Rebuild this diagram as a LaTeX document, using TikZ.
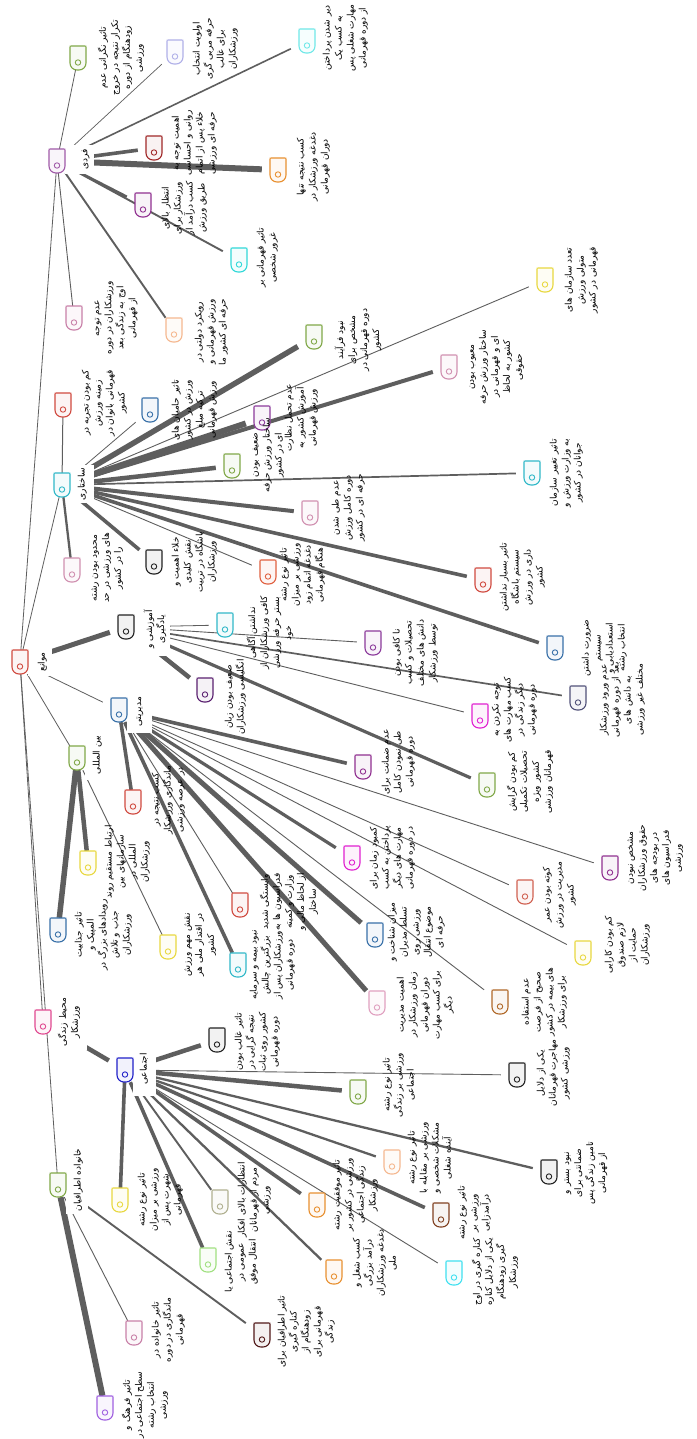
\documentclass[tikz,border=0pt]{standalone}
\usepackage{fontspec}
\newfontfamily\fa[Script=Arabic]{DejaVu Sans}
\TeXXeTstate=1
\newcommand\RL[1]{\beginR #1\endR}
\definecolor{lncol}{HTML}{5E5E5E}
\definecolor{cred}{HTML}{D04A40}
\definecolor{cpurp}{HTML}{A05AA8}
\definecolor{cteal}{HTML}{30B8C8}
\definecolor{cblack}{HTML}{222222}
\definecolor{cblue}{HTML}{3870A8}
\definecolor{cgreen}{HTML}{80A848}
\definecolor{cpink}{HTML}{E04890}
\definecolor{croyal}{HTML}{2020C8}
\definecolor{clav}{HTML}{B0B0E8}
\definecolor{clcyan}{HTML}{70E8E8}
\definecolor{cdred}{HTML}{A02828}
\definecolor{corange}{HTML}{E89030}
\definecolor{cmag}{HTML}{903090}
\definecolor{ccyan}{HTML}{30D8D8}
\definecolor{cmauve}{HTML}{C880A8}
\definecolor{cpeach}{HTML}{F5B890}
\definecolor{cplum}{HTML}{8B3A9B}
\definecolor{cpinkb}{HTML}{D090B0}
\definecolor{cyellow}{HTML}{E8D840}
\definecolor{corred}{HTML}{E06040}
\definecolor{cdpurp}{HTML}{5A2070}
\definecolor{cslate}{HTML}{505078}
\definecolor{cfuch}{HTML}{E020D0}
\definecolor{cpinkl}{HTML}{E0A0C0}
\definecolor{cbrown}{HTML}{B06828}
\definecolor{csalmon}{HTML}{D06050}
\definecolor{cdbrown}{HTML}{804020}
\definecolor{cbcyan}{HTML}{40E0F0}
\definecolor{clgreen}{HTML}{A0E080}
\definecolor{cgray}{HTML}{B0B090}
\definecolor{cviolet}{HTML}{A060E0}
\definecolor{cmaroon}{HTML}{501818}
\tikzset{
  bx/.style={rectangle, minimum width=32pt, minimum height=24pt, inner sep=0pt, draw=none},
  lab/.style={rotate=90, anchor=north, align=center, inner sep=0.5pt,
    font=\fa\fontsize{9pt}{12pt}\selectfont},
  con/.style={draw=lncol},
  mask/.style={fill=white, draw=none}
}
\newcommand\bx[3]{\node[bx] (#1) at (#2,#3) {};}
\newcommand\ed[3]{\draw[con, line width=#3pt] (#1) -- (#2);}
\newcommand\ic[2]{%
  \begin{scope}[shift={(#1.center)}]
    \draw[line width=1.1pt, draw=#2, fill=#2!6] (-6.5,-12) -- (6.5,-12)
      .. controls (8,-12) .. (8,-10.5) -- (8,5)
      .. controls (8,8.9) and (4.9,12) .. (1,12) -- (-1,12)
      .. controls (-4.9,12) and (-8,8.9) .. (-8,5) -- (-8,-10.5)
      .. controls (-8,-12) .. (-6.5,-12) -- cycle;
    \draw[line width=0.9pt, draw=#2] (0,4.5) circle (2.7);
  \end{scope}}
\newcommand\lab[4]{\node[lab] (t#1) at (#2,#3) {#4};}
\begin{document}
\begin{tikzpicture}[x=1pt,y=-1pt]
\fill[white] (0,0) rectangle (696,1439);
\useasboundingbox (0,0) rectangle (696,1439);
% ---------- node boxes
\bx{R}{20}{662}\bx{F}{57}{161}\bx{S}{62}{485}\bx{A}{126}{627}\bx{M}{119}{710}
\bx{B}{77}{758}\bx{E}{43}{1022}\bx{J}{125}{1070}\bx{K}{58}{1185}
\bx{F1}{78}{58}\bx{F2}{175}{52}\bx{F3}{307}{41}\bx{F4}{154}{148}\bx{F5}{278}{170}
\bx{F6}{143}{205}\bx{F7}{239}{260}\bx{F8}{74}{318}\bx{F9}{174}{330}
\bx{S1}{63}{405}\bx{S2}{150}{410}\bx{S3}{314}{337}\bx{S4}{262}{418}\bx{S5}{449}{367}
\bx{S6}{545}{280}\bx{S7}{232}{466}\bx{S8}{532}{473}\bx{S9}{310}{513}\bx{S10}{483}{580}
\bx{S11}{555}{648}\bx{S12}{154}{562}\bx{S13}{72}{570}\bx{S14}{268}{572}
\bx{A1}{225}{625}\bx{A2}{205}{690}\bx{A3}{373}{643}\bx{A4}{578}{698}\bx{A5}{480}{716}\bx{A6}{487}{785}
\bx{M1}{363}{767}\bx{M2}{352}{858}\bx{M3}{133}{802}\bx{M4}{240}{905}\bx{M5}{238}{965}
\bx{M6}{375}{935}\bx{M7}{377}{1003}\bx{M8}{500}{1002}\bx{M9}{583}{953}\bx{M10}{525}{892}\bx{M11}{610}{868}
\bx{B1}{88}{863}\bx{B2}{58}{930}\bx{B3}{168}{947}
\bx{J1}{217}{1040}\bx{J2}{358}{1092}\bx{J3}{517}{1075}\bx{J4}{549}{1172}\bx{J5}{392}{1162}
\bx{J6}{441}{1215}\bx{J7}{454}{1273}\bx{J8}{317}{1205}\bx{J9}{334}{1272}\bx{J10}{208}{1260}
\bx{J11}{220}{1202}\bx{J12}{120}{1200}
\bx{K1}{105}{1408}\bx{K2}{134}{1333}\bx{K3}{262}{1335}
% ---------- connectors
\ed{R}{F}{0.8}\ed{R}{S}{0.8}\ed{R}{A}{5}\ed{R}{M}{0.8}\ed{R}{B}{0.8}\ed{R}{E}{0.8}\ed{R}{K}{0.8}
\ed{E}{J}{4.5}
\ed{F}{F1}{0.8}\ed{F}{F2}{0.7}\ed{F}{F3}{1.6}\ed{F}{F4}{3.6}\ed{F}{F5}{6}\ed{F}{F6}{2.5}
\ed{F}{F7}{1.9}\ed{F}{F8}{0.9}\ed{F}{F9}{1.9}
\ed{S}{S1}{1}\ed{S}{S2}{0.8}\ed{S}{S3}{5.5}\ed{S}{S4}{6}\ed{S}{S5}{4}\ed{S}{S6}{0.9}
\ed{S}{S7}{4.5}\ed{S}{S8}{1.7}\ed{S}{S9}{4}\ed{S}{S10}{3.6}\ed{S}{S11}{3.6}\ed{S}{S12}{3.6}
\ed{S}{S13}{2.3}\ed{S}{S14}{0.9}
\ed{A}{A1}{0.8}\ed{A}{A2}{4.5}\ed{A}{A3}{0.9}\ed{A}{A4}{1.7}\ed{A}{A5}{0.9}\ed{A}{A6}{3.2}
\ed{M}{M1}{3.6}\ed{M}{M2}{3.2}\ed{M}{M3}{3.6}\ed{M}{M4}{0.9}\ed{M}{M5}{3.6}\ed{M}{M6}{5}
\ed{M}{M7}{5}\ed{M}{M8}{0.9}\ed{M}{M9}{0.9}\ed{M}{M10}{0.9}\ed{M}{M11}{0.9}
\ed{B}{B1}{4.5}\ed{B}{B2}{5.5}\ed{B}{B3}{0.9}
\ed{J}{J1}{4.5}\ed{J}{J2}{4.5}\ed{J}{J3}{0.9}\ed{J}{J4}{2.3}\ed{J}{J5}{2.3}\ed{J}{J6}{3.6}
\ed{J}{J7}{0.9}\ed{J}{J8}{3.6}\ed{J}{J9}{2.3}\ed{J}{J10}{3.6}\ed{J}{J11}{1.9}\ed{J}{J12}{3.6}
\ed{K}{K1}{6}\ed{K}{K2}{0.9}\ed{K}{K3}{1.9}
% ---------- masks behind parent labels
\fill[mask] (28,648) rectangle (52,676);
\fill[mask] (65,145) rectangle (94,174);
\fill[mask] (71,465) rectangle (94,503);
\fill[mask] (134,602) rectangle (170,656);
\fill[mask] (127,692) rectangle (152,733);
\fill[mask] (85,730) rectangle (107,780);
\fill[mask] (51,994) rectangle (87,1050);
\fill[mask] (133,1042) rectangle (156,1096);
\fill[mask] (66,1146) rectangle (88,1214);
% ---------- icons
\ic{R}{cred}\ic{F}{cpurp}\ic{S}{cteal}\ic{A}{cblack}\ic{M}{cblue}\ic{B}{cgreen}
\ic{E}{cpink}\ic{J}{croyal}\ic{K}{cgreen}
\ic{F1}{cgreen}\ic{F2}{clav}\ic{F3}{clcyan}\ic{F4}{cdred}\ic{F5}{corange}\ic{F6}{cmag}
\ic{F7}{ccyan}\ic{F8}{cmauve}\ic{F9}{cpeach}
\ic{S1}{cred}\ic{S2}{cblue}\ic{S3}{cgreen}\ic{S4}{cplum}\ic{S5}{cpinkb}\ic{S6}{cyellow}
\ic{S7}{cgreen}\ic{S8}{cteal}\ic{S9}{cpinkb}\ic{S10}{cred}\ic{S11}{cblue}\ic{S12}{cblack}
\ic{S13}{cpinkb}\ic{S14}{corred}
\ic{A1}{cteal}\ic{A2}{cdpurp}\ic{A3}{cplum}\ic{A4}{cslate}\ic{A5}{cfuch}\ic{A6}{cgreen}
\ic{M1}{cmag}\ic{M2}{cfuch}\ic{M3}{cred}\ic{M4}{cred}\ic{M5}{cteal}\ic{M6}{cblue}
\ic{M7}{cpinkl}\ic{M8}{cbrown}\ic{M9}{cyellow}\ic{M10}{csalmon}\ic{M11}{cmag}
\ic{B1}{cyellow}\ic{B2}{cblue}\ic{B3}{cyellow}
\ic{J1}{cblack}\ic{J2}{cgreen}\ic{J3}{cblack}\ic{J4}{cblack}\ic{J5}{cpeach}\ic{J6}{cdbrown}
\ic{J7}{cbcyan}\ic{J8}{corange}\ic{J9}{corange}\ic{J10}{clgreen}\ic{J11}{cgray}\ic{J12}{cyellow}
\ic{K1}{cviolet}\ic{K2}{cmauve}\ic{K3}{cmaroon}
% ---------- labels
\lab{R}{37}{662}{\RL{موانع}}
\lab{F}{81}{159}{\RL{فردی}}
\lab{S}{77}{484}{\RL{ساختاری}}
\lab{A}{143}{629}{\RL{آموزشی و}\\\RL{یادگیری}}
\lab{M}{136}{712}{\RL{مدیریتی}}
\lab{B}{92}{755}{\RL{بین المللی}}
\lab{E}{57}{1022}{\RL{محیط زندگی}\\\RL{ورزشکار}}
\lab{J}{139}{1069}{\RL{اجتماعی}}
\lab{K}{73}{1180}{\RL{خانواده اطرافیان}}
\lab{F1}{97}{58}{\RL{تاثیر نگرانی عدم}\\\RL{تکرار نتیجه در خروج}\\\RL{زودهنگام از دوره}\\\RL{ورزشی}}
\lab{F2}{192}{49}{\RL{اولویت انتخاب}\\\RL{حرفه مربی گری}\\\RL{برای غالب}\\\RL{ورزشکاران}}
\lab{F3}{322}{38}{\RL{دیر شدن پرداختن}\\\RL{به کسب یک}\\\RL{مهارت شغلی پس}\\\RL{از دوره قهرمانی}}
\lab{F4}{171}{143}{\RL{اهمیت توجه به}\\\RL{روانی و احساسی}\\\RL{خلاء پس از اتمام}\\\RL{حرفه ای ورزشی}}
\lab{F5}{296}{167}{\RL{کسب نتیجه تنها}\\\RL{دغدغه ورزشکار در}\\\RL{دوران قهرمانی}}
\lab{F6}{161}{208}{\RL{انتظار بالای}\\\RL{ورزشکار برای}\\\RL{کسب درآمد از}\\\RL{طریق ورزش}}
\lab{F7}{256}{258}{\RL{تاثیر قهرمانی بر}\\\RL{غرور شخصی}}
\lab{F8}{94}{318}{\RL{عدم توجه}\\\RL{ورزشکاران در دوره}\\\RL{اوج به زندگی بعد}\\\RL{از قهرمانی}}
\lab{F9}{194}{332}{\RL{رویکرد دولتی در}\\\RL{ورزش قهرمانی و}\\\RL{حرفه ای کشور ما}}
\lab{S1}{81}{403}{\RL{کم بودن تجربه در}\\\RL{زمینه ورزش}\\\RL{قهرمانی بانوان در}\\\RL{کشور}}
\lab{S2}{171}{410}{\RL{تاثیر حامیان های}\\\RL{ورزش در کشور}\\\RL{ترکیه مبلغ}\\\RL{ورزش قهرمانی}}
\lab{S3}{334}{340}{\RL{نبود فرآیند}\\\RL{مشخص برای}\\\RL{دوره قهرمانی در}\\\RL{کشور}}
\lab{S4}{284}{418}{\RL{عدم تحمل نظارت}\\\RL{آموزش کشور به}\\\RL{ورزش قهرمانی}}
\lab{S5}{469}{367}{\RL{معیوب بودن}\\\RL{ساختار ورزش حرفه}\\\RL{ای و قهرمانی در}\\\RL{کشور به لحاظ}\\\RL{حقوقی}}
\lab{S6}{564}{280}{\RL{تعدد سازمان های}\\\RL{متولی ورزش}\\\RL{قهرمانی در کشور}}
\lab{S7}{252}{455}{\RL{ضعیف بودن}\\\RL{ساختار ورزش حرفه}\\\RL{ای در کشور}}
\lab{S8}{549}{473}{\RL{تاثیر تغییر سازمان}\\\RL{به وزارت ورزش و}\\\RL{جوانان در کشور}}
\lab{S9}{331}{508}{\RL{عدم طی شدن}\\\RL{دوره کامل ورزش}\\\RL{حرفه ای در کشور}}
\lab{S10}{499}{577}{\RL{تاثیر بسیار نداشتن}\\\RL{سیستم باشگاه}\\\RL{داری در ورزش}\\\RL{کشور}}
\lab{S11}{581}{648}{\RL{ضرورت داشتن}\\\RL{سیستم}\\\RL{استعدادیابی و}\\\RL{انتخاب رشته}}
\lab{S12}{171}{562}{\RL{خلاء اهمیت و}\\\RL{نقش کلیدی}\\\RL{باشگاه در تربیت}\\\RL{ورزشکاران}}
\lab{S13}{91}{568}{\RL{محدود بودن رشته}\\\RL{های ورزشی در حد}\\\RL{را در کشور}}
\lab{S14}{279}{575}{\RL{تاثیر نوع رشته}\\\RL{ورزشی بر میزان}\\\RL{دغدغه اتمام زود}\\\RL{هنگام قهرمانی}}
\lab{A1}{246}{633}{\RL{نداشتن آگاهی}\\\RL{کافی ورزشکاران از}\\\RL{بستر حرفه ورزشی}\\\RL{خود}}
\lab{A2}{224}{697}{\RL{ضعیف بودن زبان}\\\RL{انگلیسی ورزشکاران}}
\lab{A3}{392}{653}{\RL{نا کافی بودن}\\\RL{تحصیلات و کسب}\\\RL{دانش های مختلف}\\\RL{توسط ورزشکار}}
\lab{A4}{599}{700}{\RL{عدم ورود ورزشکار}\\\RL{بعد از دوره قهرمانی}\\\RL{به دانش های}\\\RL{مختلف غیر ورزشی}}
\lab{A5}{491}{710}{\RL{توجه نکردن به}\\\RL{کسب مهارت های}\\\RL{دیگر زندگی در}\\\RL{دوره قهرمانی}}
\lab{A6}{506}{782}{\RL{کم بودن گرایش}\\\RL{تحصیلات تکمیلی}\\\RL{کشور ویژه}\\\RL{قهرمانان ورزشی}}
\lab{M1}{381}{762}{\RL{عدم ضمانت برای}\\\RL{طی نمودن کامل}\\\RL{دوره قهرمانی}}
\lab{M2}{369}{858}{\RL{کمبود زمان برای}\\\RL{پرداختن به کسب}\\\RL{مهارت های دیگر}\\\RL{در دوره قهرمانی}}
\lab{M3}{151}{800}{\RL{کسب نتیجه در}\\\RL{ماندگاری ورزشکار}\\\RL{در عرصه ورزشی}}
\lab{M4}{259}{902}{\RL{وابستگی شدید}\\\RL{فدراسیون ها به}\\\RL{وزارت و کمیته}\\\RL{از لحاظ مالی و}\\\RL{ساختار}}
\lab{M5}{249}{965}{\RL{نبود بیمه و سرمایه}\\\RL{بزرگترین چالش}\\\RL{ورزشکاران پس از}\\\RL{دوره قهرمانی}}
\lab{M6}{387}{932}{\RL{میزان شناخت و}\\\RL{تسلط مدیران}\\\RL{ورزشی روی}\\\RL{موضوع انتقال}\\\RL{حرفه ای}}
\lab{M7}{396}{1005}{\RL{اهمیت مدیریت}\\\RL{زمان ورزشکار در}\\\RL{دوران قهرمانی}\\\RL{برای کسب مهارت}\\\RL{دیگر}}
\lab{M8}{521}{1002}{\RL{عدم استفاده}\\\RL{صحیح از فرصت}\\\RL{های بیمه در کشور}\\\RL{برای ورزشکار}}
\lab{M9}{604}{945}{\RL{کم بودن کارایی}\\\RL{لازم صندوق}\\\RL{حمایت از}\\\RL{ورزشکاران}}
\lab{M10}{542}{895}{\RL{کوته بودن عمر}\\\RL{مدیریت در ورزش}\\\RL{کشور}}
\lab{M11}{627}{858}{\RL{مشخص نبودن}\\\RL{حقوق ورزشکاران}\\\RL{در بودجه های}\\\RL{فدراسیون های}\\\RL{ورزشی}}
\lab{B1}{104}{862}{\RL{ارتباط مستقیم روند}\\\RL{سازمانهای بین}\\\RL{المللی در}\\\RL{ورزشکاران}}
\lab{B2}{74}{935}{\RL{تاثیر جذابیت}\\\RL{المپیک و}\\\RL{رویدادهای بزرگ در}\\\RL{جذب و تلاش}\\\RL{ورزشکاران}}
\lab{B3}{184}{945}{\RL{نقش مهم ورزش}\\\RL{در اقتدار ملی هر}\\\RL{کشور}}
\lab{J1}{234}{1042}{\RL{تاثیر غالب بودن}\\\RL{نتیجه گرایی در}\\\RL{کشور روی ثبات}\\\RL{دوره قهرمانی}}
\lab{J2}{382}{1085}{\RL{تاثیر نوع رشته}\\\RL{ورزشی بر زندگی}\\\RL{اجتماعی}}
\lab{J3}{536}{1073}{\RL{یکی از دلایل}\\\RL{مهاجرت قهرمانان}\\\RL{ورزشی کشور}}
\lab{J4}{564}{1173}{\RL{نبود بستر و}\\\RL{ضمانتی برای}\\\RL{تامین زندگی پس}\\\RL{از قهرمانی}}
\lab{J5}{407}{1158}{\RL{تاثیر نوع رشته}\\\RL{ورزشی بر مقابله با}\\\RL{مشکلات شخصی و}\\\RL{آینده شغلی}}
\lab{J6}{457}{1213}{\RL{تاثیر نوع رشته}\\\RL{ورزشی بر}\\\RL{درآمدزایی}}
\lab{J7}{471}{1272}{\RL{کناره گیری در اوج}\\\RL{یکی از دلایل کناره}\\\RL{گیری زودهنگام}\\\RL{ورزشکار}}
\lab{J8}{332}{1195}{\RL{تاثیر موفقیت رشته}\\\RL{ورزشی در کشور بر}\\\RL{زندگی اجتماعی}\\\RL{ورزشکار}}
\lab{J9}{352}{1263}{\RL{کسب شغل و}\\\RL{درآمد بزرگی}\\\RL{دغدغه ورزشکاران}\\\RL{ملی}}
\lab{J10}{224}{1262}{\RL{نقش اجتماعی یا}\\\RL{عمومی در}\\\RL{انتقال موفق}}
\lab{J11}{237}{1200}{\RL{انتظارات بالای افکار}\\\RL{مردم از قهرمانان}\\\RL{ورزشی}}
\lab{J12}{137}{1200}{\RL{تاثیر نوع رشته}\\\RL{ورزشی بر میزان}\\\RL{شهرت پس از}\\\RL{قهرمانی}}
\lab{K1}{121}{1405}{\RL{تاثیر فرهنگ و}\\\RL{سطح اجتماعی در}\\\RL{انتخاب رشته}\\\RL{ورزشی}}
\lab{K2}{151}{1330}{\RL{تاثیر خانواده در}\\\RL{ماندگاری در دوره}\\\RL{قهرمانی}}
\lab{K3}{277}{1332}{\RL{تاثیر اطرافیان برای}\\\RL{کناره گیری}\\\RL{زودهنگام از}\\\RL{قهرمانی برای}\\\RL{زندگی}}
\end{tikzpicture}
\end{document}
